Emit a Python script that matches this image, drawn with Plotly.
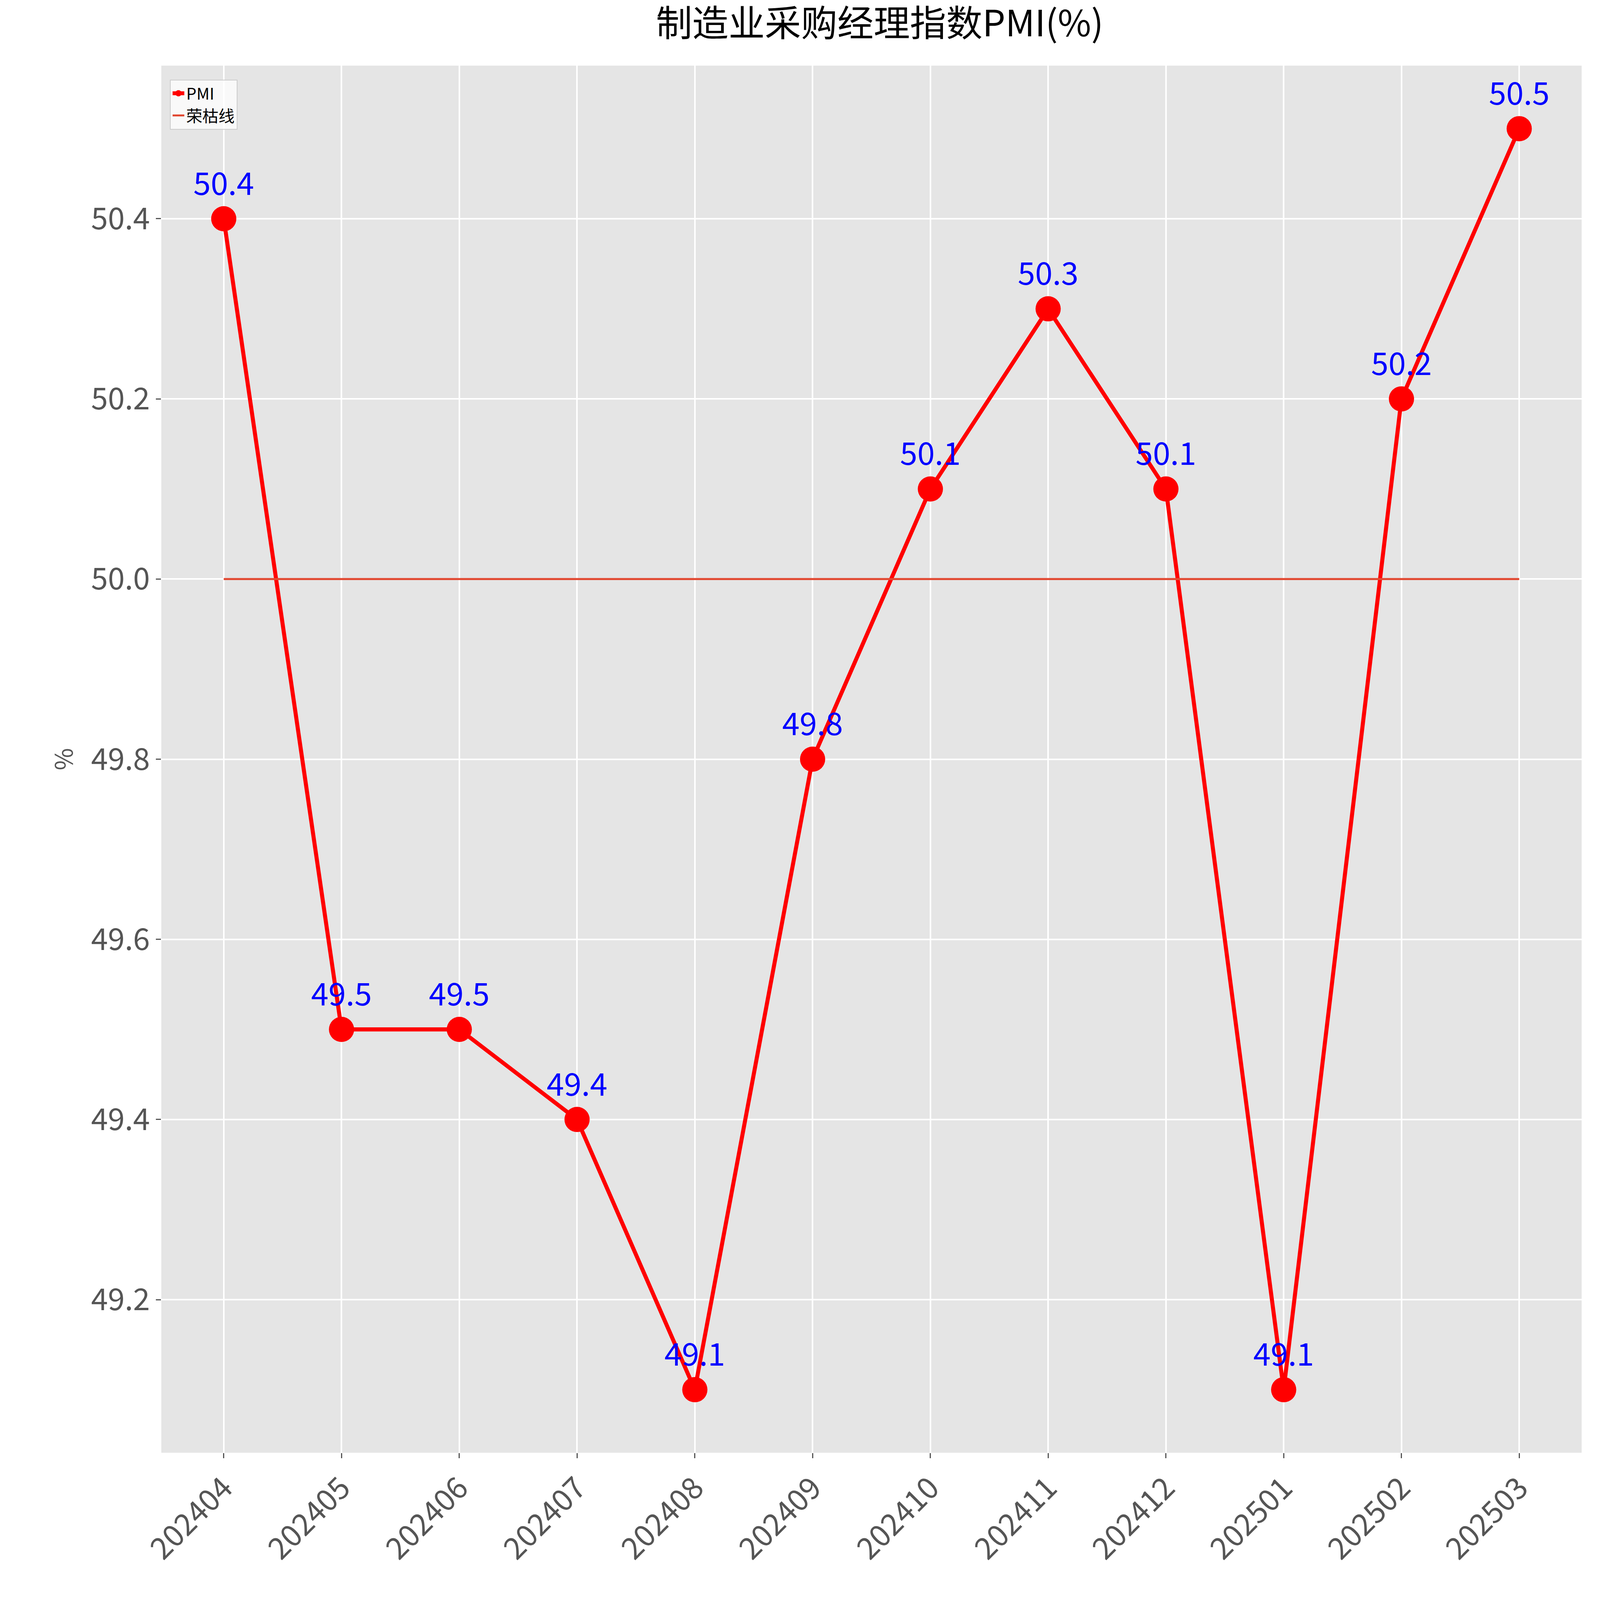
import plotly.graph_objects as go

months = ["202404","202405","202406","202407","202408","202409","202410","202411","202412","202501","202502","202503"]
pmi = [50.4,49.5,49.5,49.4,49.1,49.8,50.1,50.3,50.1,49.1,50.2,50.5]
boom = [50.0]*len(months)

S = 2.58  # CSS px per reference display px
F = "Noto Sans CJK SC"
fig = go.Figure()
fig.add_trace(go.Scatter(x=months, y=pmi, mode="lines+markers+text", name="PMI",
    line=dict(color="red", width=4*S), marker=dict(color="red", size=25*S),
    text=[f"{v:.1f}" for v in pmi], textposition="top center",
    textfont=dict(color="blue", size=31*S, family=F)))
fig.add_trace(go.Scatter(x=months, y=boom, mode="lines", name="荣枯线",
    line=dict(color="#E24A33", width=2*S)))
fig.update_layout(
    autosize=True, paper_bgcolor="white", plot_bgcolor="#E5E5E5",
    margin=dict(l=157*S, r=15*S, t=62*S, b=143*S),
    font=dict(family=F, color="#555555"),
    title=dict(text="制造业采购经理指数PMI(%)", x=0.55, xanchor="center", y=0.995, yanchor="top",
               font=dict(size=36*S, color="black", family=F)),
    showlegend=True,
    legend=dict(x=0.006, y=0.99, xanchor="left", yanchor="top", bgcolor="rgba(255,255,255,0.75)",
                bordercolor="#CCCCCC", borderwidth=2, font=dict(size=16*S, color="black")),
)
fig.update_xaxes(type="category", range=[-0.53, 11.53], showgrid=True, gridcolor="white", gridwidth=1.5*S,
                 tickangle=-45, tickfont=dict(size=30*S), ticks="outside", ticklen=5*S, tickwidth=1.2*S,
                 tickcolor="#555555", zeroline=False)
fig.update_yaxes(range=[49.03, 50.57], tickvals=[49.2,49.4,49.6,49.8,50.0,50.2,50.4], tickformat=".1f",
                 showgrid=True, gridcolor="white",
                 gridwidth=1.5*S, tickfont=dict(size=30*S), ticks="outside", ticklen=5*S, tickwidth=1.2*S,
                 tickcolor="#555555", zeroline=False,
                 title=dict(text="%", font=dict(size=24*S), standoff=10*S))
fig.write_html("out.html", default_width="100%", default_height="100%")
